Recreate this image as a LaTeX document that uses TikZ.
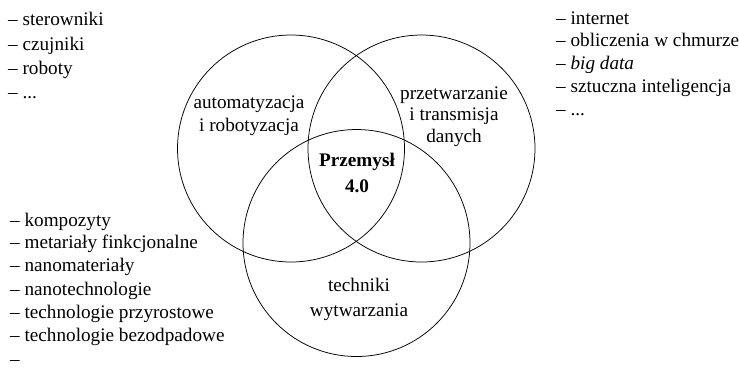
\documentclass[tikz,border=0pt]{standalone}
\usepackage{fontspec}
\setmainfont{Liberation Serif}
\begin{document}
\begin{tikzpicture}[x=1pt,y=-1pt,
  txt/.style={inner sep=0pt, font=\fontsize{19.2}{23}\selectfont},
  lst/.style={txt, anchor=base west},
  lbl/.style={txt, anchor=base},
  ring/.style={draw=black, line width=0.75pt}]
\useasboundingbox (0,0) rectangle (739,376);
% circles
\coordinate (cL) at (291,148.5);
\coordinate (cR) at (421.5,148.5);
\coordinate (cB) at (356.5,243);
\draw[ring] (cL) circle[radius=113.5];
\draw[ring] (cR) circle[radius=113.5];
\draw[ring] (cB) circle[radius=113.5];
% circle labels
\node[lbl] (a1) at (249,108.3) {automatyzacja};
\node[lbl] (a2) at (249,131.7) {i robotyzacja};
\node[lbl] (p1) at (454,99) {przetwarzanie};
\node[lbl] (p2) at (454,120.5) {i transmisja};
\node[lbl] (p3) at (454,142.3) {danych};
\node[lbl,font=\fontsize{19.2}{23}\selectfont\bfseries] (c1) at (357,166.7) {Przemysł};
\node[lbl,font=\fontsize{19.2}{23}\selectfont\bfseries] (c2) at (357,192.7) {4.0};
\node[lbl] (t1) at (359,291.7) {techniki};
\node[lbl] (t2) at (359,316.7) {wytwarzania};
% top-left list
\node[lst] (tl1) at (8,25.7) {– sterowniki};
\node[lst] (tl2) at (8,50) {– czujniki};
\node[lst] (tl3) at (8,74.3) {– roboty};
\node[lst] (tl4) at (8,98.7) {– ...};
% right list
\node[lst] (r1) at (556,24) {– internet};
\node[lst] (r2) at (556,46.7) {– obliczenia w chmurze};
\node[lst] (r3) at (556,69.3) {– \textit{big data}};
\node[lst] (r4) at (556,92.7) {– sztuczna inteligencja};
\node[lst] (r5) at (556,115) {– ...};
% lower-left list
\node[lst] (b1) at (10,226) {– kompozyty};
\node[lst] (b2) at (10,248.3) {– metariały finkcjonalne};
\node[lst] (b3) at (10,271.7) {– nanomateriały};
\node[lst] (b4) at (10,295) {– nanotechnologie};
\node[lst] (b5) at (10,318.3) {– technologie przyrostowe};
\node[lst] (b6) at (10,341.7) {– technologie bezodpadowe};
\node[lst] (b7) at (10,365) {–};
\end{tikzpicture}
\end{document}
